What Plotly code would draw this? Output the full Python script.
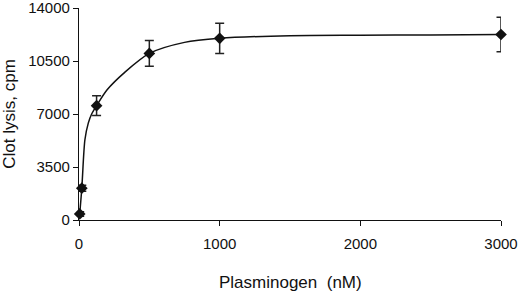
import plotly.graph_objects as go

# Measured data points
conc_nM = [5, 20, 125, 500, 1000, 3000]
lysis_cpm = [400, 2100, 7550, 11000, 12000, 12250]
lysis_err = [150, 200, 650, 850, 1000, 1140]

# Fitted curve
curve_x = [5, 20, 42, 66, 90, 125, 200, 325, 500, 750, 1000, 1500, 2000, 2500, 3000]
curve_y = [400, 2100, 5300, 6400, 7000, 7550, 8600, 9750, 11000, 11730, 12000, 12170, 12200, 12220, 12250]

x_ticks = [0, 1000, 2000, 3000]
y_ticks = [0, 3500, 7000, 10500, 14000]

fig = go.Figure()
fig.add_trace(go.Scatter(
    x=curve_x, y=curve_y, mode="lines",
    line=dict(color="#111111", width=1.5, shape="spline", smoothing=0.8),
    hoverinfo="skip", showlegend=False, cliponaxis=False,
))
fig.add_trace(go.Scatter(
    x=conc_nM, y=lysis_cpm, mode="markers",
    marker=dict(symbol="diamond", size=9, color="#111111"),
    error_y=dict(type="data", array=lysis_err, color="#222222", thickness=1.5, width=4.5),
    showlegend=False, cliponaxis=False,
))

fam = "Liberation Sans, Arial, sans-serif"
tick_font = dict(family=fam, size=15, color="#111111")
title_font = dict(family=fam, size=17, color="#111111")
fig.update_layout(
    width=520, height=296,
    margin=dict(l=77, r=19, t=8, b=76),
    paper_bgcolor="white", plot_bgcolor="white",
    font=tick_font,
    xaxis=dict(
        range=[0, 3000], tickvals=x_ticks, ticktext=[str(v) for v in x_ticks],
        showgrid=False, zeroline=False, showline=True, linecolor="#111111", linewidth=1.2,
        ticks="outside", ticklen=5, tickcolor="#111111", tickwidth=1.2,
        tickfont=tick_font, ticklabeloverflow="allow", automargin=False,
        ticklabelstandoff=5,
    ),
    yaxis=dict(
        range=[0, 14000], tickvals=y_ticks, ticktext=[str(v) for v in y_ticks],
        showgrid=False, zeroline=False, showline=True, linecolor="#111111", linewidth=1.2,
        ticks="outside", ticklen=5, tickcolor="#111111", tickwidth=1.2,
        title=dict(text="Clot lysis, cpm", font=title_font, standoff=8),
        tickfont=tick_font, ticklabeloverflow="allow", automargin="left",
    ),
    annotations=[dict(
        text="Plasminogen\u00a0 (nM)", xref="paper", yref="paper", x=0.5, y=0,
        xanchor="center", yanchor="middle", yshift=-62, showarrow=False, font=title_font,
    )],
)

fig.write_html("out.html", config={"displayModeBar": False},
               post_script="document.body.style.margin='0';")
